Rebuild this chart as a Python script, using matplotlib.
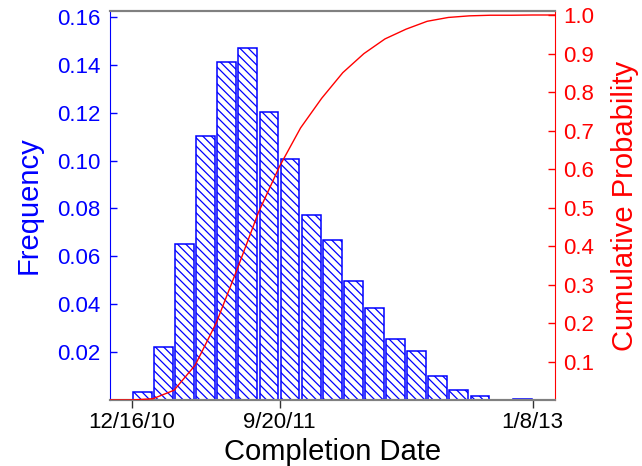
import numpy as np
import matplotlib
matplotlib.use("Agg")
import matplotlib.pyplot as plt
import matplotlib.dates as mdates
import datetime as dt

plt.rcParams['font.family'] = ['Liberation Sans', 'DejaVu Sans']
plt.rcParams['hatch.linewidth'] = 0.9
plt.rcParams['hatch.color'] = 'blue'

# ---- data ----
data_start = dt.date(2010, 12, 16)
data_end = dt.date(2013, 1, 8)
frequency = [0.0033, 0.0221, 0.0652, 0.1103, 0.1412, 0.1470, 0.1203, 0.1007,
             0.0773, 0.0668, 0.0497, 0.0384, 0.0255, 0.0205, 0.0100, 0.0042,
             0.0016, 0.0, 0.0006]
xtick_dates = [dt.date(2010, 12, 16), dt.date(2011, 9, 20), dt.date(2013, 1, 8)]
xtick_labels = ['12/16/10', '9/20/11', '1/8/13']
left_ticks = [0.02, 0.04, 0.06, 0.08, 0.10, 0.12, 0.14, 0.16]
left_labels = ['0.02', '0.04', '0.06', '0.08', '0.10', '0.12', '0.14', '0.16']
right_ticks = [0.1, 0.2, 0.3, 0.4, 0.5, 0.6, 0.7, 0.8, 0.9, 1.0]
right_labels = ['0.1', '0.2', '0.3', '0.4', '0.5', '0.6', '0.7', '0.8', '0.9', '1.0']
xlim_dates = (dt.date(2010, 11, 5), dt.date(2013, 2, 19))

# ---- derived ----
freq = np.array(frequency)
n = len(freq)
edges = np.linspace(mdates.date2num(data_start), mdates.date2num(data_end), n + 1)
centers = (edges[:-1] + edges[1:]) / 2
width = edges[1] - edges[0]
cdf = np.cumsum(freq) / freq.sum()
xl = [mdates.date2num(d) for d in xlim_dates]
line_x = np.concatenate([[xl[0]], edges, [xl[1]]])
line_y = np.concatenate([[0.0, 0.0], cdf, [1.0]])

fig = plt.figure(figsize=(6.42, 4.66), dpi=100)
ax = fig.add_axes([110/642, 66/466, 445/642, 389/466])

ax.bar(centers, freq, width=width * 0.89, facecolor='white', edgecolor='blue',
       linewidth=1.1, hatch='\\\\\\\\', zorder=2)
ax.set_xlim(xl)
ax.set_ylim(0, 0.1625)
ax.set_yticks(left_ticks)
ax.set_yticklabels(left_labels)
ax.set_xticks([mdates.date2num(d) for d in xtick_dates])
ax.set_xticklabels(xtick_labels)

ax.tick_params(axis='y', direction='in', length=5, width=1, color='blue',
               labelcolor='blue', labelsize=16, pad=7)
ax.tick_params(axis='x', direction='out', length=6, width=1, color='#333333',
               labelcolor='black', labelsize=16, pad=3)
ax.set_ylabel('Frequency', color='blue', fontsize=21, labelpad=10)
ax.set_xlabel('Completion Date', color='black', fontsize=21, labelpad=3)

for s in ['top', 'bottom']:
    ax.spines[s].set_color('#808080')
    ax.spines[s].set_linewidth(1.5)
ax.spines['left'].set_color('blue')
ax.spines['right'].set_visible(False)

ax2 = ax.twinx()
ax2.plot(line_x, line_y, color='red', linewidth=1.0, zorder=3)
ax2.set_ylim(0, 1.0104)
ax2.set_yticks(right_ticks)
ax2.set_yticklabels(right_labels)
ax2.tick_params(axis='y', direction='in', length=5, width=1, color='red',
                labelcolor='red', labelsize=16, pad=6)
ax2.set_ylabel('Cumulative Probability', color='red', fontsize=21, labelpad=12)
ax2.spines['right'].set_color('red')
ax2.spines['left'].set_visible(False)
for s in ['top', 'bottom']:
    ax2.spines[s].set_color('#808080')
    ax2.spines[s].set_linewidth(1.5)

fig.savefig('out.png', dpi=100)
